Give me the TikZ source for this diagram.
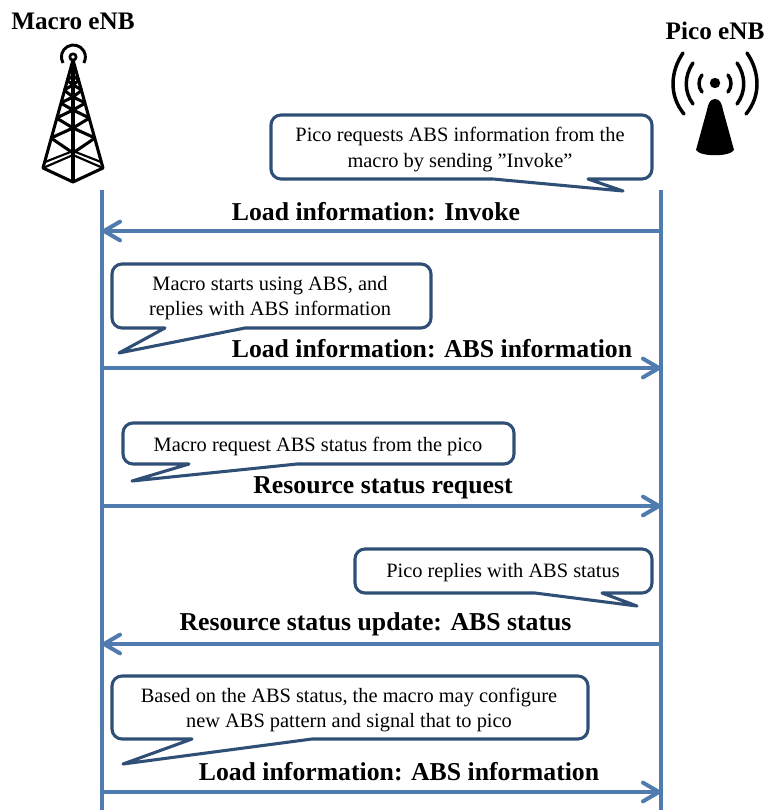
\documentclass[tikz,border=0pt]{standalone}
\usepackage{fontspec}
\setmainfont{Liberation Serif}
\usetikzlibrary{arrows.meta}
\definecolor{lineblue}{HTML}{4F7BAE}
\definecolor{calloutblue}{HTML}{2F4F76}
\tikzset{
  x=0.75pt,y=-0.75pt,
  lifeline/.style={draw=lineblue,line width=3pt},
  msg/.style={lifeline,-{Straight Barb[length=12pt,width=14pt,line width=3pt,round]}},
  callout/.style={draw=calloutblue,fill=white,line width=2.3pt,line join=round},
  calltext/.style={font=\fontsize{15.3}{18.8}\selectfont,align=center,inner sep=0pt},
  msgtext/.style={font=\fontsize{19.3}{22}\selectfont\bfseries,inner sep=0pt},
  title/.style={font=\fontsize{18.9}{22}\selectfont\bfseries,inner sep=0pt},
  tower/.style={draw=black,line width=2.3pt,line join=round},
  wave/.style={draw=black,line width=2.6pt,line cap=round},
}
\newcommand{\callpath}[5]{%
  \draw[callout] (#1+10,#2) -- (#3-10,#2) arc[start angle=-90,end angle=0,radius=10]
   -- (#3,#4-10) arc[start angle=0,end angle=90,radius=10] #5 (#1+10,#4) arc[start angle=90,end angle=180,radius=10]
   -- (#1,#2+10) arc[start angle=180,end angle=270,radius=10] -- cycle;}
\begin{document}
\begin{tikzpicture}
\useasboundingbox (0,0) rectangle (765,810);
% titles
\node[title] (macrotitle) at (73,21) {Macro eNB};
\node[title] (picotitle) at (715,31) {Pico eNB};
% macro tower
\begin{scope}[tower]
\draw (73,60) -- (43,168) -- (73,182) -- (103,168) -- cycle;
\draw (73,60) -- (73,182);
\draw[line width=1.6pt] (43,168) -- (73,155) -- (103,168);
\draw[line width=1.6pt] (45,162) -- (73,151) -- (101,162);
\draw (51,138) -- (73,153) -- (95,138);
\draw (51,138) -- (73,128) -- (95,138);
\draw (56.5,118) -- (73,128) -- (89.5,118);
\draw (56.5,118) -- (73,110) -- (89.5,118);
\draw (60.6,103) -- (73,110) -- (85.4,103);
\draw (60.6,103) -- (73,97) -- (85.4,103);
\draw (64,90) -- (73,97) -- (82,90);
\draw (64,90) -- (73,85) -- (82,90);
\draw (66.8,80) -- (73,85) -- (79.2,80);
\draw (66.8,80) -- (73,76) -- (79.2,80);
\draw[line width=2pt] (73,57) circle[radius=3.2];
\draw[line width=2.2pt] (63,63) arc[start angle=150,end angle=390,radius=12];
\end{scope}
% pico icon
\fill (715,83) circle[radius=5.2];
\fill (715,99) .. controls (710,99) and (708,104) .. (707,110) -- (696,150)
  .. controls (700,157) and (730,157) .. (734,150) -- (723,110) .. controls (722,104) and (720,99) .. (715,99) -- cycle;
\draw[wave] (683,53) .. controls (670,72) and (669,96) .. (684,114);
\draw[wave] (693,63) .. controls (684,76) and (684,92) .. (693,104);
\draw[wave] (702,75) .. controls (698,80) and (698,87) .. (702,92);
\draw[wave] (747,53) .. controls (760,72) and (761,96) .. (746,114);
\draw[wave] (737,63) .. controls (746,76) and (746,92) .. (737,104);
\draw[wave] (728,75) .. controls (732,80) and (732,87) .. (728,92);
% lifelines
\coordinate (mtop) at (102,190);
\coordinate (mbot) at (102,810);
\coordinate (ptop) at (661,190);
\coordinate (pbot) at (661,810);
\draw[lifeline] (mtop) -- (mbot);
\draw[lifeline] (ptop) -- (pbot);
% messages
\foreach \n/\y in {a/231,b/368,c/506,d/644,e/792}{
  \coordinate (m\n) at (102,\y);
  \coordinate (p\n) at (661,\y);
}
\draw[msg] (pa) -- (ma);
\draw[msg] (mb) -- (pb);
\draw[msg] (mc) -- (pc);
\draw[msg] (pd) -- (md);
\draw[msg] (me) -- (pe);
% callouts
\callpath{271}{115}{652}{179}{-- (588,179) -- (623,191) -- (493,179) --}
\callpath{112}{264}{431}{328}{-- (245,328) -- (119,353) -- (165,328) --}
\callpath{123}{423}{514}{464}{-- (297,464) -- (132,481) -- (189,464) --}
\callpath{355}{549}{652}{593}{-- (602,593) -- (637,606) -- (535,593) --}
\callpath{112}{676}{588}{739}{-- (312,739) -- (123,764) -- (192,739) --}
% callout text
\node[calltext] (ca) at (460,149.5) {Pico requests ABS information from the\\macro by sending ”Invoke”};
\node[calltext] (cb) at (270,298) {Macro starts using ABS, and\\replies with ABS information};
\node[calltext] (cc) at (318,446) {Macro request ABS status from the pico};
\node[calltext] (cd) at (503,573) {Pico replies with ABS status};
\node[calltext] (ce) at (349,710) {Based on the ABS status, the macro may configure\\new ABS pattern and signal that to pico};
% message text
\node[msgtext] (la) at (376,211.5) {Load information: Invoke};
\node[msgtext] (lb) at (432,349) {Load information: ABS information};
\node[msgtext] (lc) at (383,488) {Resource status request};
\node[msgtext] (ld) at (375.5,624.5) {Resource status update: ABS status};
\node[msgtext] (le) at (399,772) {Load information: ABS information};
\end{tikzpicture}
\end{document}
